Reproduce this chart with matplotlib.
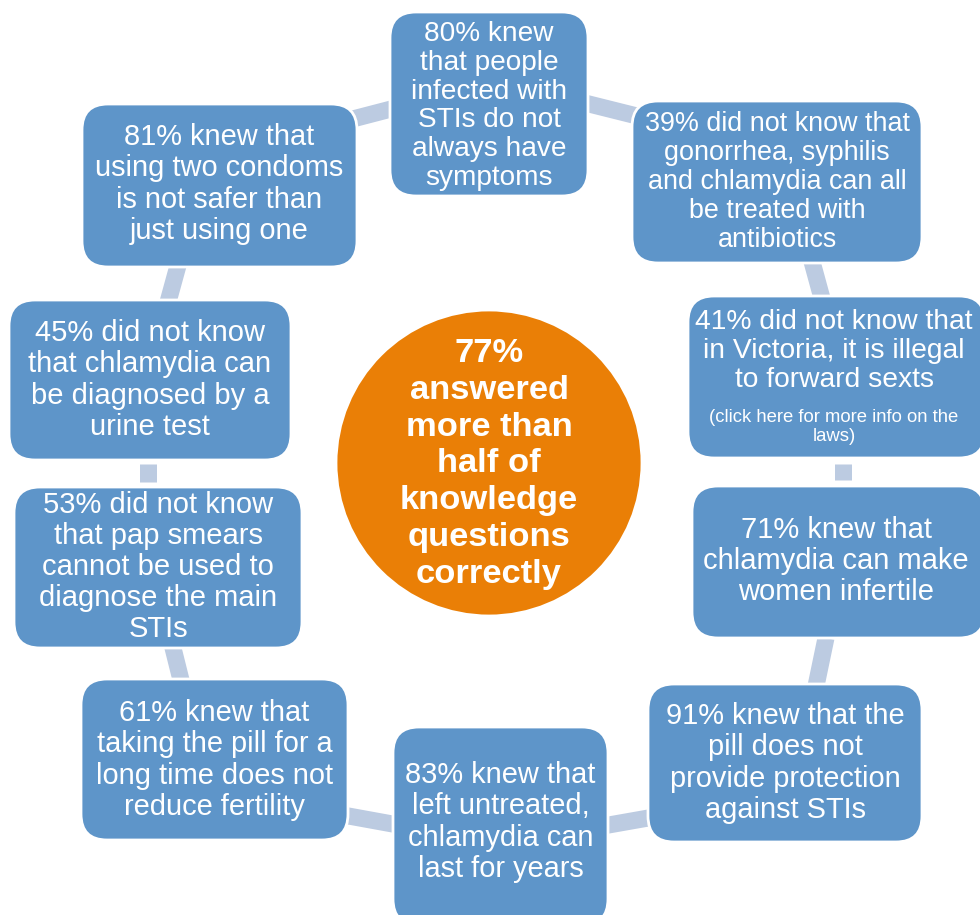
import matplotlib
matplotlib.use("Agg")
import matplotlib.pyplot as plt
from matplotlib.patches import FancyBboxPatch, Circle

plt.rcParams['font.family'] = ['Liberation Sans', 'DejaVu Sans']

# ---- content ----
center_text = "77%\nanswered\nmore than\nhalf of\nknowledge\nquestions\ncorrectly"
box_texts = [
    "80% knew\nthat people\ninfected with\nSTIs do not\nalways have\nsymptoms",
    "39% did not know that\ngonorrhea, syphilis\nand chlamydia can all\nbe treated with\nantibiotics",
    "41% did not know that\nin Victoria, it is illegal\nto forward sexts",
    "71% knew that\nchlamydia can make\nwomen infertile",
    "91% knew that the\npill does not\nprovide protection\nagainst STIs",
    "83% knew that\nleft untreated,\nchlamydia can\nlast for years",
    "61% knew that\ntaking the pill for a\nlong time does not\nreduce fertility",
    "53% did not know\nthat pap smears\ncannot be used to\ndiagnose the main\nSTIs",
    "45% did not know\nthat chlamydia can\nbe diagnosed by a\nurine test",
    "81% knew that\nusing two condoms\nis not safer than\njust using one",
]
note_text = "(click here for more info on the\nlaws)"

# ---- layout (pixels) ----
# (x0, y0, x1, y1) box extents, text centre y, font size (pt)
boxes = [
    (390, 12, 588, 196, 106, 20.2),
    (632, 101, 922, 263, 182, 19.4),
    (688, 296, 985, 458, 351, 20.3),
    (692, 486, 985, 638, 561, 21.0),
    (648, 684, 922, 842, 763, 20.9),
    (393, 727, 608, 925, 822, 20.9),
    (81, 679, 348, 840, 760, 20.9),
    (14, 487, 302, 648, 567, 21.0),
    (9, 300, 291, 460, 380, 21.0),
    (82, 104, 357, 267, 184, 20.9),
]
connectors = [
    ((585, 103), (645, 118)),
    ((811, 258), (823, 302)),
    ((843, 464), (843, 480)),
    ((826, 638), (816, 686)),
    ((603, 826), (654, 817)),
    ((343, 815), (398, 825)),
    ((172, 644), (182, 684)),
    ((148, 464), (148, 482)),
    ((179, 262), (168, 302)),
    ((345, 121), (395, 108)),
]

BLUE = "#5E95C9"
LIGHT = "#BCCBE1"
ORANGE = "#EA7F06"

W, H = 980, 915
fig = plt.figure(figsize=(W / 100, H / 100), dpi=100)
ax = fig.add_axes([0, 0, 1, 1])
ax.set_xlim(0, W)
ax.set_ylim(H, 0)
ax.axis('off')

px = 0.72  # points per pixel

for (p0, p1) in connectors:
    ax.plot([p0[0], p1[0]], [p0[1], p1[1]], color=LIGHT, lw=17 * px,
            solid_capstyle='butt', zorder=1)

for (x0, y0, x1, y1, ty, fs), txt in zip(boxes, box_texts):
    patch = FancyBboxPatch((x0, y0), x1 - x0, y1 - y0,
                           boxstyle="round,pad=0,rounding_size=26",
                           facecolor=BLUE, edgecolor='white', lw=2, zorder=2)
    ax.add_patch(patch)
    ax.text((x0 + min(x1, W)) / 2, ty, txt, color='white', fontsize=fs,
            ha='center', va='center', linespacing=1.14, zorder=3)

# note in box 3
bx0, by0, bx1 = boxes[2][:3]
ax.text((bx0 + min(bx1, W)) / 2, 427, note_text, color='white', fontsize=13.3,
        ha='center', va='center', linespacing=1.2, zorder=3)

ax.add_patch(Circle((489, 463), 153, facecolor=ORANGE, edgecolor='white',
                    lw=2, zorder=2))
ax.text(489, 464, center_text, color='white', fontsize=24.8, fontweight='bold',
        ha='center', va='center', linespacing=1.245, zorder=3)

fig.savefig("out.png", dpi=100)
